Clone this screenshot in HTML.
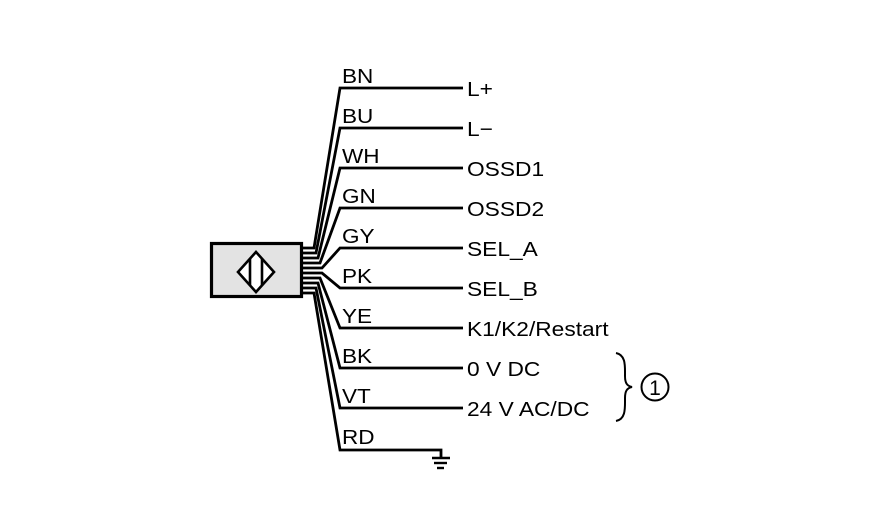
<!DOCTYPE html>
<html><head><meta charset="utf-8"><style>
html,body{margin:0;padding:0;background:#fff;width:886px;height:531px;overflow:hidden}
text{font-family:"Liberation Sans",Arial,sans-serif;font-size:20.5px;fill:#000}
</style></head><body>
<svg width="886" height="531" viewBox="0 0 886 531" xmlns="http://www.w3.org/2000/svg">
<rect x="211.5" y="243.5" width="90" height="53" fill="#e3e3e3" stroke="#000" stroke-width="3.2"/>
<polygon points="256,252 274,272 256,292 238,272" fill="#fff" stroke="#000" stroke-width="2.6"/>
<line x1="250" y1="259" x2="250" y2="285" stroke="#000" stroke-width="2.6"/>
<line x1="262" y1="259" x2="262" y2="285" stroke="#000" stroke-width="2.6"/>
<g fill="none" stroke="#000" stroke-width="2.8" stroke-linejoin="miter">
<polyline points="302,248 314,248 340,88 463,88"/>
<polyline points="302,253 316,253 340,128 463,128"/>
<polyline points="302,258 318,258 340,168 463,168"/>
<polyline points="302,263 320,263 340,208 463,208"/>
<polyline points="302,268 322,268 340,248 463,248"/>
<polyline points="302,273 322,273 340,288 463,288"/>
<polyline points="302,278 320,278 340,328 463,328"/>
<polyline points="302,283 318,283 340,368 463,368"/>
<polyline points="302,288 316,288 340,408 463,408"/>
<polyline points="302,293 314,293 340,450 441,450 441,458"/>
</g>
<g stroke="#000" stroke-width="2.4">
<line x1="432" y1="458" x2="450" y2="458"/>
<line x1="434" y1="463" x2="447" y2="463"/>
<line x1="437" y1="468" x2="444" y2="468"/>
</g>
<g transform="translate(342,0) scale(1.1,1)">
<text x="0" y="83">BN</text>
<text x="0" y="123">BU</text>
<text x="0" y="163">WH</text>
<text x="0" y="203">GN</text>
<text x="0" y="243">GY</text>
<text x="0" y="283">PK</text>
<text x="0" y="323">YE</text>
<text x="0" y="363">BK</text>
<text x="0" y="403">VT</text>
<text x="0" y="444">RD</text>
</g>
<g transform="translate(467,0) scale(1.11,1)">
<text x="0" y="96">L+</text>
<text x="0" y="136">L−</text>
<text x="0" y="176">OSSD1</text>
<text x="0" y="216">OSSD2</text>
<text x="0" y="256">SEL_A</text>
<text x="0" y="296">SEL_B</text>
<text x="0" y="336">K1/K2/Restart</text>
<text x="0" y="376">0 V DC</text>
<text x="0" y="416">24 V AC/DC</text>
</g>
<path d="M616,353 C626,355 625,366 625,376 C625,383 627,386 632,387 C627,388 625,391 625,398 C625,408 626,419 616,421" fill="none" stroke="#000" stroke-width="2"/>
<circle cx="655" cy="387" r="13.5" fill="none" stroke="#000" stroke-width="2"/>
<text x="655" y="395" text-anchor="middle" style="font-size:21px">1</text>
</svg>
</body></html>
